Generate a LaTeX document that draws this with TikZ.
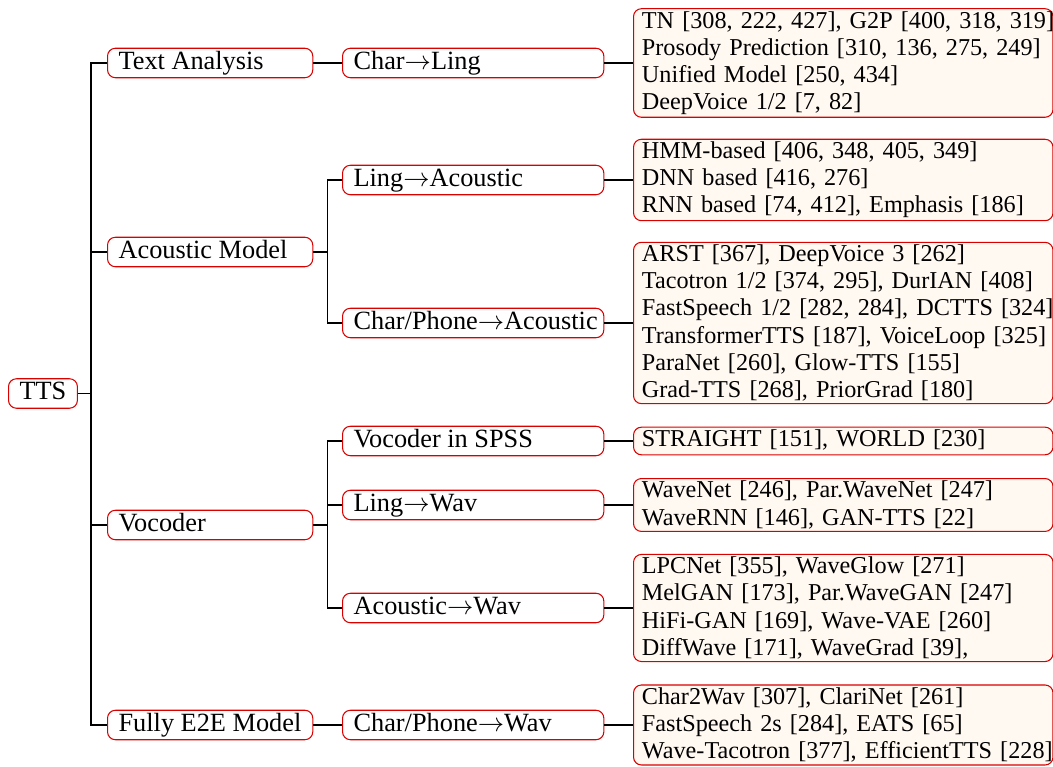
\documentclass[tikz,border=0pt]{standalone}
\usepackage{fontspec}
\setmainfont{Liberation Serif}

\begin{document}
\begin{tikzpicture}[x=0.38pt, y=-0.38pt,
    font=\fontsize{10pt}{10.3pt}\selectfont,
    box/.style={draw=red!85!black, rounded corners=3pt, anchor=west, inner ysep=1pt},
    oneline/.style={box, inner xsep=4.2pt, text height=7pt, text depth=2.2pt},
    lvlone/.style={oneline, execute at begin node={\hbox to 69.6pt\bgroup}, execute at end node={\hss\egroup}},
    lvltwo/.style={oneline, execute at begin node={\hbox to 90.9pt\bgroup}, execute at end node={\hss\egroup}},
    leaf/.style={box, fill=orange!5, inner xsep=3.2pt, text width=153pt, align=left,
        font=\fontsize{9.2pt}{10.3pt}\selectfont,
        execute at begin node={\rightskip=0pt plus 1fil minus 30pt}},
    edge/.style={line width=0.5pt}]
    \useasboundingbox (0,0) rectangle (1053,767);

    \node[oneline] (tts) at (8,393.5) {TTS};

    \node[lvlone] (ta) at (107,63) {Text Analysis};
    \node[lvlone] (am) at (107,252) {Acoustic Model};
    \node[lvlone] (voc) at (107,525) {Vocoder};
    \node[lvlone] (e2e) at (107,725) {Fully E2E Model};

    \node[lvltwo] (c2l) at (342,63) {Char$\rightarrow$Ling};
    \node[lvltwo] (l2a) at (342,180) {Ling$\rightarrow$Acoustic};
    \node[lvltwo] (cp2a) at (342,323) {Char/Phone$\rightarrow$Acoustic};
    \node[lvltwo] (spss) at (342,441) {Vocoder in SPSS};
    \node[lvltwo] (l2w) at (342,505) {Ling$\rightarrow$Wav};
    \node[lvltwo] (a2w) at (342,608) {Acoustic$\rightarrow$Wav};
    \node[lvltwo] (cp2w) at (342,725) {Char/Phone$\rightarrow$Wav};

    \node[leaf] (lc2l) at (633,63) {TN [308, 222, 427], G2P [400, 318, 319]\\
        Prosody Prediction [310, 136, 275, 249]\\
        Unified Model [250, 434]\\
        DeepVoice 1/2 [7, 82]};
    \node[leaf] (ll2a) at (633,180) {HMM-based [406, 348, 405, 349]\\
        DNN based [416, 276]\\
        RNN based [74, 412], Emphasis [186]};
    \node[leaf] (lcp2a) at (633,323) {ARST [367], DeepVoice 3 [262]\\
        Tacotron 1/2 [374, 295], DurIAN [408]\\
        FastSpeech 1/2 [282, 284], DCTTS [324]\\
        TransformerTTS [187], VoiceLoop [325]\\
        ParaNet [260], Glow-TTS [155]\\
        Grad-TTS [268], PriorGrad [180]};
    \node[leaf, text height=6.5pt, text depth=2pt] (lspss) at (633,441) {STRAIGHT [151], WORLD [230]};
    \node[leaf] (ll2w) at (633,505) {WaveNet [246], Par.WaveNet [247]\\
        WaveRNN [146], GAN-TTS [22]};
    \node[leaf] (la2w) at (633,608) {LPCNet [355], WaveGlow [271]\\
        MelGAN [173], Par.WaveGAN [247]\\
        HiFi-GAN [169], Wave-VAE [260]\\
        DiffWave [171], WaveGrad [39],};
    \node[leaf] (lcp2w) at (633,725) {Char2Wav [307], ClariNet [261]\\
        FastSpeech 2s [284], EATS [65]\\
        Wave-Tacotron [377], EfficientTTS [228]};

    \draw[edge] (tts.east) -- +(13,0) |- (ta.west);
    \draw[edge] (tts.east) -- +(13,0) |- (am.west);
    \draw[edge] (tts.east) -- +(13,0) |- (voc.west);
    \draw[edge] (tts.east) -- +(13,0) |- (e2e.west);

    \draw[edge] (ta.east) -- (c2l.west);
    \draw[edge] (am.east) -- +(14,0) |- (l2a.west);
    \draw[edge] (am.east) -- +(14,0) |- (cp2a.west);
    \draw[edge] (voc.east) -- +(14,0) |- (spss.west);
    \draw[edge] (voc.east) -- +(14,0) |- (l2w.west);
    \draw[edge] (voc.east) -- +(14,0) |- (a2w.west);
    \draw[edge] (e2e.east) -- (cp2w.west);

    \draw[edge] (c2l.east) -- (lc2l.west);
    \draw[edge] (l2a.east) -- (ll2a.west);
    \draw[edge] (cp2a.east) -- (lcp2a.west);
    \draw[edge] (spss.east) -- (lspss.west);
    \draw[edge] (l2w.east) -- (ll2w.west);
    \draw[edge] (a2w.east) -- (la2w.west);
    \draw[edge] (cp2w.east) -- (lcp2w.west);
\end{tikzpicture}
\end{document}
